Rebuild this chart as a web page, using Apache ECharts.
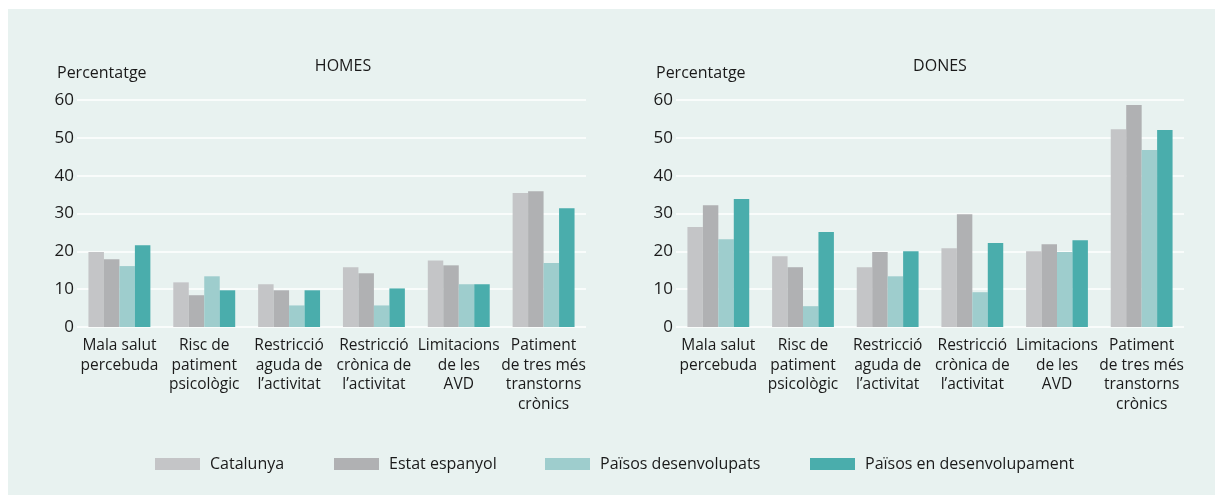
<!DOCTYPE html>
<html>
<head>
<meta charset="utf-8">
<script src="https://cdn.jsdelivr.net/npm/echarts@6/dist/echarts.min.js"></script>
<style>
  html, body { margin: 0; padding: 0; background: #ffffff; }
  #chart { width: 1215px; height: 495px; }
</style>
</head>
<body>
<div id="chart"></div>
<script>
// categories (shared by both panels)
const categories = [
  'Mala salut\npercebuda',
  'Risc de\npatiment\npsicològic',
  'Restricció\naguda de\nl’activitat',
  'Restricció\ncrònica de\nl’activitat',
  'Limitacions\nde les\nAVD',
  'Patiment\nde tres més\ntranstorns\ncrònics'
]
const seriesNames = ['Catalunya', 'Estat espanyol', 'Països desenvolupats', 'Països en desenvolupament']
const yTicks = [0, 10, 20, 30, 40, 50, 60]

// HOMES
const homesCatalunya = [19.8, 11.8, 11.3, 15.8, 17.6, 35.4]
const homesEstat = [17.9, 8.4, 9.7, 14.2, 16.3, 35.9]
const homesDesenv = [16.1, 13.4, 5.7, 5.7, 11.3, 16.9]
const homesEnDesenv = [21.6, 9.7, 9.7, 10.2, 11.3, 31.4]

// DONES
const donesCatalunya = [26.4, 18.7, 15.8, 20.8, 20.0, 52.3]
const donesEstat = [32.2, 15.8, 19.8, 29.8, 21.9, 58.7]
const donesDesenv = [23.2, 5.5, 13.4, 9.2, 19.8, 46.8]
const donesEnDesenv = [33.8, 25.1, 20.0, 22.2, 22.9, 52.1]

const COLORS = ['#c4c5c7', '#b0b1b3', '#9ecdcd', '#4aadac']
const FONT = 'Open Sans'
const TEXT_COLOR = '#1a1a1a'
// x position of each legend item (one legend per series)
const LEGEND_LEFT = [150, 329, 540, 805]

const homesData = [homesCatalunya, homesEstat, homesDesenv, homesEnDesenv]
const donesData = [donesCatalunya, donesEstat, donesDesenv, donesEnDesenv]

function makeSeries(data, axisIndex) {
  return data.map((vals, i) => ({
    name: seriesNames[i],
    type: 'bar',
    xAxisIndex: axisIndex,
    yAxisIndex: axisIndex,
    barGap: 0,
    barCategoryGap: '27%',
    itemStyle: { color: COLORS[i] },
    data: vals
  }))
}

function xAxisOf(gridIndex) {
  return {
    type: 'category',
    gridIndex: gridIndex,
    data: categories,
    axisLine: { show: false },
    axisTick: { show: false },
    axisLabel: {
      interval: 0,
      margin: 9,
      color: TEXT_COLOR,
      fontFamily: FONT,
      fontSize: 15.5,
      lineHeight: 19.5
    }
  }
}

function yAxisOf(gridIndex) {
  return {
    type: 'value',
    gridIndex: gridIndex,
    min: yTicks[0],
    max: yTicks[yTicks.length - 1],
    interval: 10,
    axisLine: { show: false },
    axisTick: { show: false },
    axisLabel: {
      margin: 3,
      color: TEXT_COLOR,
      fontFamily: FONT,
      fontSize: 17
    },
    splitLine: { lineStyle: { color: '#ffffff', width: 1.5 } }
  }
}

const titleStyle = { color: TEXT_COLOR, fontFamily: FONT, fontSize: 16, fontWeight: 'normal' }

const option = {
  animation: false,
  backgroundColor: '#ffffff',
  graphic: [{
    type: 'rect',
    z: -10,
    shape: { x: 8, y: 9, width: 1215, height: 495 },
    style: { fill: '#e8f2f0' }
  }],
  title: [
    { text: 'Percentatge', left: 52, top: 60, textStyle: titleStyle },
    { text: 'HOMES', left: 338, top: 53, textAlign: 'center', textStyle: titleStyle },
    { text: 'Percentatge', left: 651, top: 60, textStyle: titleStyle },
    { text: 'DONES', left: 935, top: 53, textAlign: 'center', textStyle: titleStyle }
  ],
  legend: seriesNames.map((name, i) => ({
    data: [name],
    left: LEGEND_LEFT[i],
    top: 451,
    icon: 'rect',
    itemWidth: 45,
    itemHeight: 12,
    textStyle: { color: TEXT_COLOR, fontFamily: FONT, fontSize: 16, padding: [0, 0, 0, 5] }
  })),
  grid: [
    { left: 77, right: 629, top: 100, bottom: 168 },
    { left: 676, right: 31, top: 100, bottom: 168 }
  ],
  xAxis: [xAxisOf(0), xAxisOf(1)],
  yAxis: [yAxisOf(0), yAxisOf(1)],
  series: [...makeSeries(homesData, 0), ...makeSeries(donesData, 1)]
}

const chart = echarts.init(document.getElementById('chart'))
chart.setOption(option)
</script>
</body>
</html>
